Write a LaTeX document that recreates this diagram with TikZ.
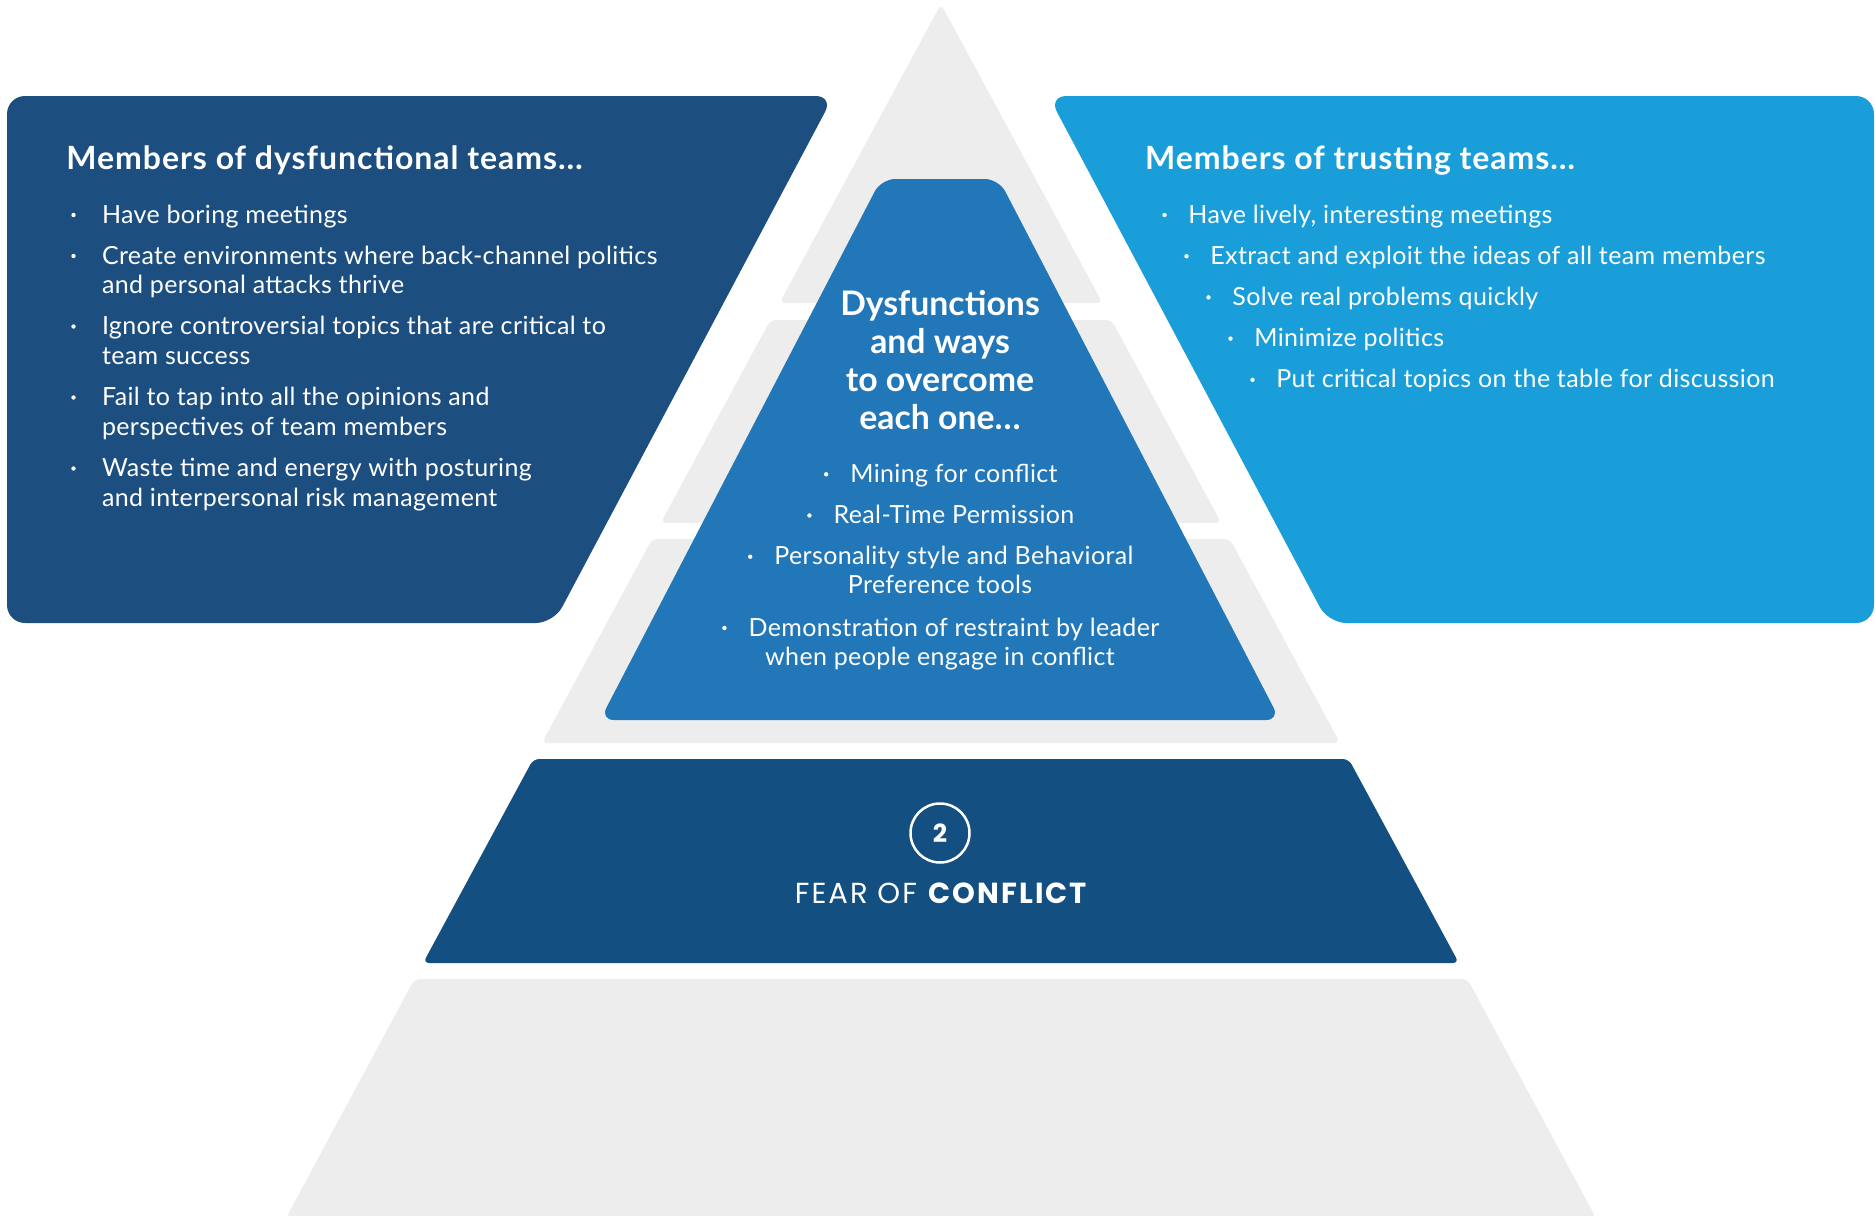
\documentclass[tikz,border=0pt]{standalone}
\usepackage{fontspec}
\setmainfont{Lato}
\newfontfamily\popfont{Poppins}
\newfontfamily\bodyfont[LetterSpace=1.5]{Lato}
\newfontfamily\headfont[LetterSpace=3]{Lato}
\newfontfamily\fearfont[LetterSpace=7]{Poppins}
\usetikzlibrary{calc}
\definecolor{gry}{HTML}{EDEDED}
\definecolor{lbox}{HTML}{1C4E80}
\definecolor{rbox}{HTML}{199ED9}
\definecolor{cblue}{HTML}{2177B8}
\definecolor{fblue}{HTML}{134F81}
\tikzset{
 layer/.style={fill=gry, rounded corners=3pt},
 boxshape/.style={rounded corners=9pt},
 hd/.style={text=white, inner sep=0pt, anchor=base west, font=\headfont\fontsize{16}{19}\selectfont\bfseries},
 bd/.style={text=white, inner sep=0pt, anchor=base west, font=\bodyfont\fontsize{12.5}{15}\selectfont},
 cbd/.style={text=white, inner sep=0pt, anchor=base, font=\bodyfont\fontsize{12.5}{15}\selectfont},
 chd/.style={text=white, inner sep=0pt, anchor=base, font=\fontsize{16.9}{19}\selectfont\bfseries},
 dot/.style={circle, fill=white, inner sep=0pt, minimum size=2.2pt},
}
\begin{document}
\begin{tikzpicture}[x=0.5pt,y=-0.5pt]
\useasboundingbox (0,0) rectangle (1875,1216);
% pyramid layers
\fill[layer] (941,4) -- (1102.5,303) -- (779.5,303) -- cycle;
\fill[layer] (770.4,320) -- (1111.6,320) -- (1221.3,523) -- (660.7,523) -- cycle;
\fill[layer] (652.1,539) -- (1229.9,539) -- (1340.1,743) -- (541.9,743) -- cycle;
\fill[fblue, rounded corners=3pt] (533.3,759) -- (1348.7,759) -- (1458.9,963) -- (423.1,963) -- cycle;
\fill[layer] (414.5,979) -- (1467.5,979) -- (1596,1218) -- (286,1218) -- cycle;
% centre triangle
\fill[cblue, rounded corners=7pt] (881.2,179) -- (998.8,179) -- (1280,720) -- (600,720) -- cycle;
% side boxes
\fill[lbox, boxshape] (7,96) -- (833.5,96) -- (553.7,623) -- (7,623) -- cycle;
\fill[rbox, boxshape] (1048.5,96) -- (1874,96) -- (1874,623) -- (1328.3,623) -- cycle;

% left box text
\node[hd] (lh) at (66,169.3) {Members of dysfunctional teams…};
\node[dot] (lb1) at (73.5,215) {};
\node[bd] (l1) at (101.6,223) {Have boring meetings};
\node[dot] (lb2) at (73.5,256) {};
\node[bd] (l2a) at (101.6,264) {Create environments where back-channel politics};
\node[bd] (l2b) at (101.6,293.5) {and personal attacks thrive};
\node[dot] (lb3) at (73.5,326.5) {};
\node[bd] (l3a) at (101.6,334.5) {Ignore controversial topics that are critical to};
\node[bd] (l3b) at (101.6,364) {team success};
\node[dot] (lb4) at (73.5,397.5) {};
\node[bd] (l4a) at (101.6,405.5) {Fail to tap into all the opinions and};
\node[bd] (l4b) at (101.6,435) {perspectives of team members};
\node[dot] (lb5) at (73.5,468.5) {};
\node[bd] (l5a) at (101.6,476.5) {Waste time and energy with posturing};
\node[bd] (l5b) at (101.6,506) {and interpersonal risk management};

% right box text
\node[hd] (rh) at (1144.7,169.3) {Members of trusting teams…};
\node[dot] (rb1) at (1164.5,215) {};
\node[bd] (r1) at (1188,223) {Have lively, interesting meetings};
\node[dot] (rb2) at (1186.5,256.2) {};
\node[bd] (r2) at (1210,264.2) {Extract and exploit the ideas of all team members};
\node[dot] (rb3) at (1208.5,297.4) {};
\node[bd] (r3) at (1232,305.4) {Solve real problems quickly};
\node[dot] (rb4) at (1230.5,338.6) {};
\node[bd] (r4) at (1254,346.6) {Minimize politics};
\node[dot] (rb5) at (1252.5,379.8) {};
\node[bd] (r5) at (1276,387.8) {Put critical topics on the table for discussion};

% centre text
\node[chd] (ch1) at (940,315) {Dysfunctions};
\node[chd] (ch2) at (940,353) {and ways};
\node[chd] (ch3) at (940,391.5) {to overcome};
\node[chd] (ch4) at (940,429.5) {each one…};
\node[cbd] (c1) at (941,482.3) {\hspace{13pt}Mining for conflict};
\node[dot] (cb1) at ($(c1.base west)+(2.2,-8)$) {};
\node[cbd] (c2) at (941,523.5) {\hspace{13pt}Real-Time Permission};
\node[dot] (cb2) at ($(c2.base west)+(2.2,-8)$) {};
\node[cbd] (c3a) at (941,564.7) {\hspace{13pt}Personality style and Behavioral};
\node[dot] (cb3) at ($(c3a.base west)+(2.2,-8)$) {};
\node[cbd] (c3b) at (940,593.8) {Preference tools};
\node[cbd] (c4a) at (941,636) {\hspace{13pt}Demonstration of restraint by leader};
\node[dot] (cb4) at ($(c4a.base west)+(2.2,-8)$) {};
\node[cbd] (c4b) at (940,665) {when people engage in conflict};

% fear of conflict
\node[circle, draw=white, line width=1.25pt, minimum size=29.5pt, inner sep=0pt, text=white, font=\popfont\fontsize{12.5}{14}\selectfont\bfseries] (num) at (940,833) {2};
\node[text=white, inner sep=0pt, anchor=base, font=\fearfont\fontsize{14.5}{17}\selectfont] (fear) at (942,903.3) {FEAR OF \textbf{CONFLICT}};
\end{tikzpicture}
\end{document}
